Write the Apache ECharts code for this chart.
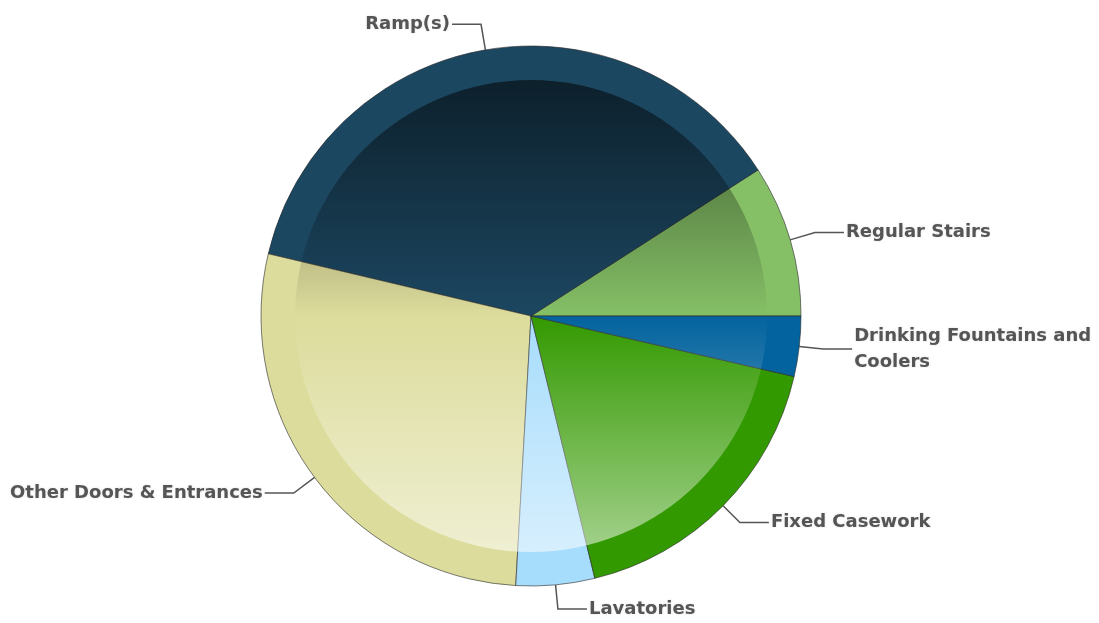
<!DOCTYPE html>
<html>
<head>
<meta charset="utf-8">
<script src="https://cdn.jsdelivr.net/npm/echarts@6/dist/echarts.min.js"></script>
<style>
  html, body { margin: 0; padding: 0; background: #fff; }
  #main { width: 1099px; height: 623px; }
</style>
</head>
<body>
<div id="main"></div>
<script>
// slices, counter-clockwise from 3 o'clock
var categories = ['Regular Stairs', 'Ramp(s)', 'Other Doors & Entrances', 'Lavatories', 'Fixed Casework', 'Drinking Fountains and Coolers'];
var values = [9.1, 37.2, 27.8, 4.7, 17.6, 3.6];
var sliceColors = ['#85c066', '#1c4761', '#dcdc9c', '#a6dcfc', '#339900', '#03639e'];

var myChart = echarts.init(document.getElementById('main'));

var pieData = categories.map(function (name, i) {
    var item = { name: name, value: values[i], itemStyle: { color: sliceColors[i] } };
    if (name.length > 25) {
        // fixed width so the layout does not truncate it near the right edge
        item.label = { width: 245, overflow: 'none' };
    }
    return item;
});

var option = {
    animation: false,
    series: [
        {
            type: 'pie',
            center: [531, 316],
            radius: 270,
            startAngle: 0,
            clockwise: false,
            bleedMargin: 1,
            data: pieData,
            itemStyle: {
                borderColor: 'rgba(40,40,40,0.6)',
                borderWidth: 1
            },
            label: {
                show: true,
                position: 'outer',
                alignTo: 'none',
                distanceToLabelLine: 2,
                // long name wraps before its last word, like the original
                formatter: function (p) {
                    return p.name.length > 25 ? p.name.replace(/ (\S+)$/, '\n$1') : p.name;
                },
                color: '#555',
                fontFamily: 'DejaVu Sans',
                fontWeight: 'bold',
                fontSize: 18,
                lineHeight: 26,
                textShadowColor: 'rgba(0,0,0,0.15)',
                textShadowBlur: 2
            },
            labelLine: {
                show: true,
                length: 26,
                length2: 29,
                lineStyle: { color: '#555', width: 1.5 }
            },
            emphasis: { disabled: true }
        },
        {
            // glossy inner overlay
            type: 'pie',
            center: [531, 316],
            radius: 236,
            silent: true,
            data: [{
                name: '',
                value: 1,
                itemStyle: {
                    color: new echarts.graphic.LinearGradient(0, 0, 0, 1, [
                        { offset: 0, color: 'rgba(0,0,0,0.55)' },
                        { offset: 0.5, color: 'rgba(0,0,0,0)' },
                        { offset: 0.5, color: 'rgba(255,255,255,0)' },
                        { offset: 1, color: 'rgba(255,255,255,0.55)' }
                    ])
                }
            }],
            label: { show: false },
            labelLine: { show: false },
            emphasis: { disabled: true }
        }
    ]
};
myChart.setOption(option);
</script>
</body>
</html>
